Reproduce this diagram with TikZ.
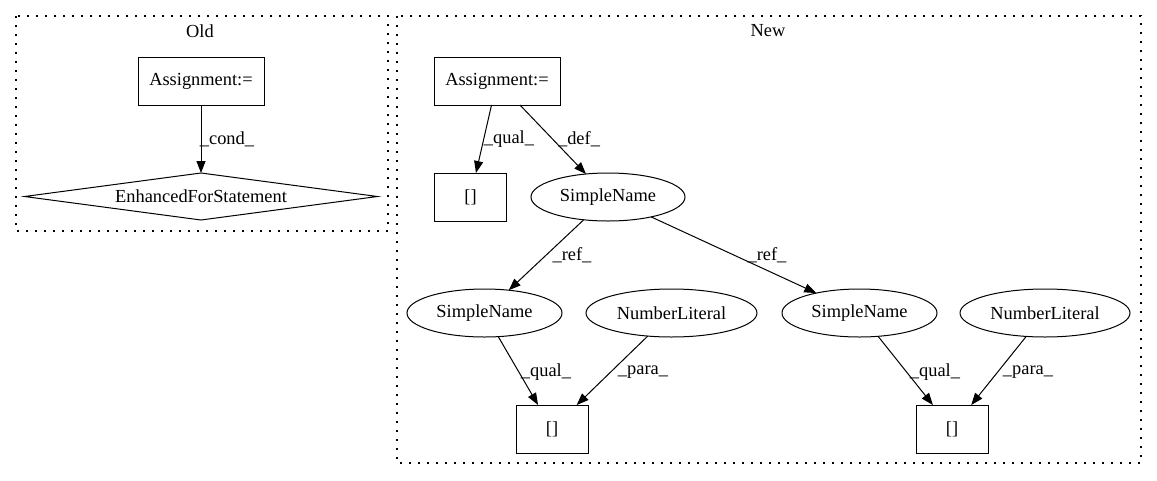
\documentclass[tikz,border=0pt]{standalone}
\usepackage{fontspec}
\setmainfont{Liberation Serif}
\usetikzlibrary{arrows.meta,shapes.geometric}
\begin{document}
\begin{tikzpicture}[x=1pt,y=-1pt,
  font=\fontsize{18.4}{21}\selectfont,
  every node/.style={inner sep=0pt, outer sep=0pt},
  boxnode/.style={draw, line width=1pt, rectangle, minimum width=126pt, minimum height=48pt},
  sqnode/.style={draw, line width=1pt, rectangle, minimum width=72pt, minimum height=48pt},
  ellnode/.style={draw, line width=1pt, ellipse, minimum height=48pt},
  dianode/.style={draw, line width=1pt, diamond, aspect=7.5, minimum width=353pt, minimum height=47pt},
  edge/.style={draw, line width=1pt, -{Triangle[length=12pt,width=9pt]}},
  lbl/.style={},
  cluster/.style={draw, line width=1.1pt, dash pattern=on 1.6pt off 7.4pt}
]
\useasboundingbox (0,0) rectangle (1157,480);
% clusters
\draw[cluster] (16,16) rectangle (388,231);
\draw[cluster] (397,16) rectangle (1141,463);
\node (oldlbl) at (200,31) {Old};
\node (newlbl) at (768,31) {New};
% old
\node[boxnode] (oa) at (201,81) {Assignment:=};
\node[dianode] (oe) at (201,196.5) {EnhancedForStatement};
\draw[edge] (oa) -- (oe);
\node[lbl] (lcond) at (227,139) {\_cond\_};
% new
\node[boxnode] (na) at (497,81) {Assignment:=};
\node[sqnode] (nb1) at (470.5,197) {[]};
\node[ellnode, minimum width=154pt] (ns0) at (608,197) {SimpleName};
\node[ellnode, minimum width=155pt] (ns1) at (484.5,313) {SimpleName};
\node[ellnode, minimum width=171pt] (nn1) at (671.5,313) {NumberLiteral};
\node[ellnode, minimum width=155pt] (ns2) at (859.5,313) {SimpleName};
\node[ellnode, minimum width=170pt] (nn2) at (1045,313) {NumberLiteral};
\node[sqnode] (nb2) at (552,429) {[]};
\node[sqnode] (nb3) at (952,429) {[]};
\draw[edge] (na) -- (nb1);
\draw[edge] (na) -- (ns0);
\draw[edge] (ns0) -- (ns1);
\draw[edge] (ns0) -- (ns2);
\draw[edge] (ns1) -- (nb2);
\draw[edge] (nn1) -- (nb2);
\draw[edge] (ns2) -- (nb3);
\draw[edge] (nn2) -- (nb3);
\node[lbl] (l1) at (509,139) {\_qual\_};
\node[lbl] (l2) at (579,139) {\_def\_};
\node[lbl] (l3) at (572,255) {\_ref\_};
\node[lbl] (l4) at (767,255) {\_ref\_};
\node[lbl] (l5) at (546,372) {\_qual\_};
\node[lbl] (l6) at (643,372) {\_para\_};
\node[lbl] (l7) at (935,372) {\_qual\_};
\node[lbl] (l8) at (1028,372) {\_para\_};
\end{tikzpicture}
\end{document}
